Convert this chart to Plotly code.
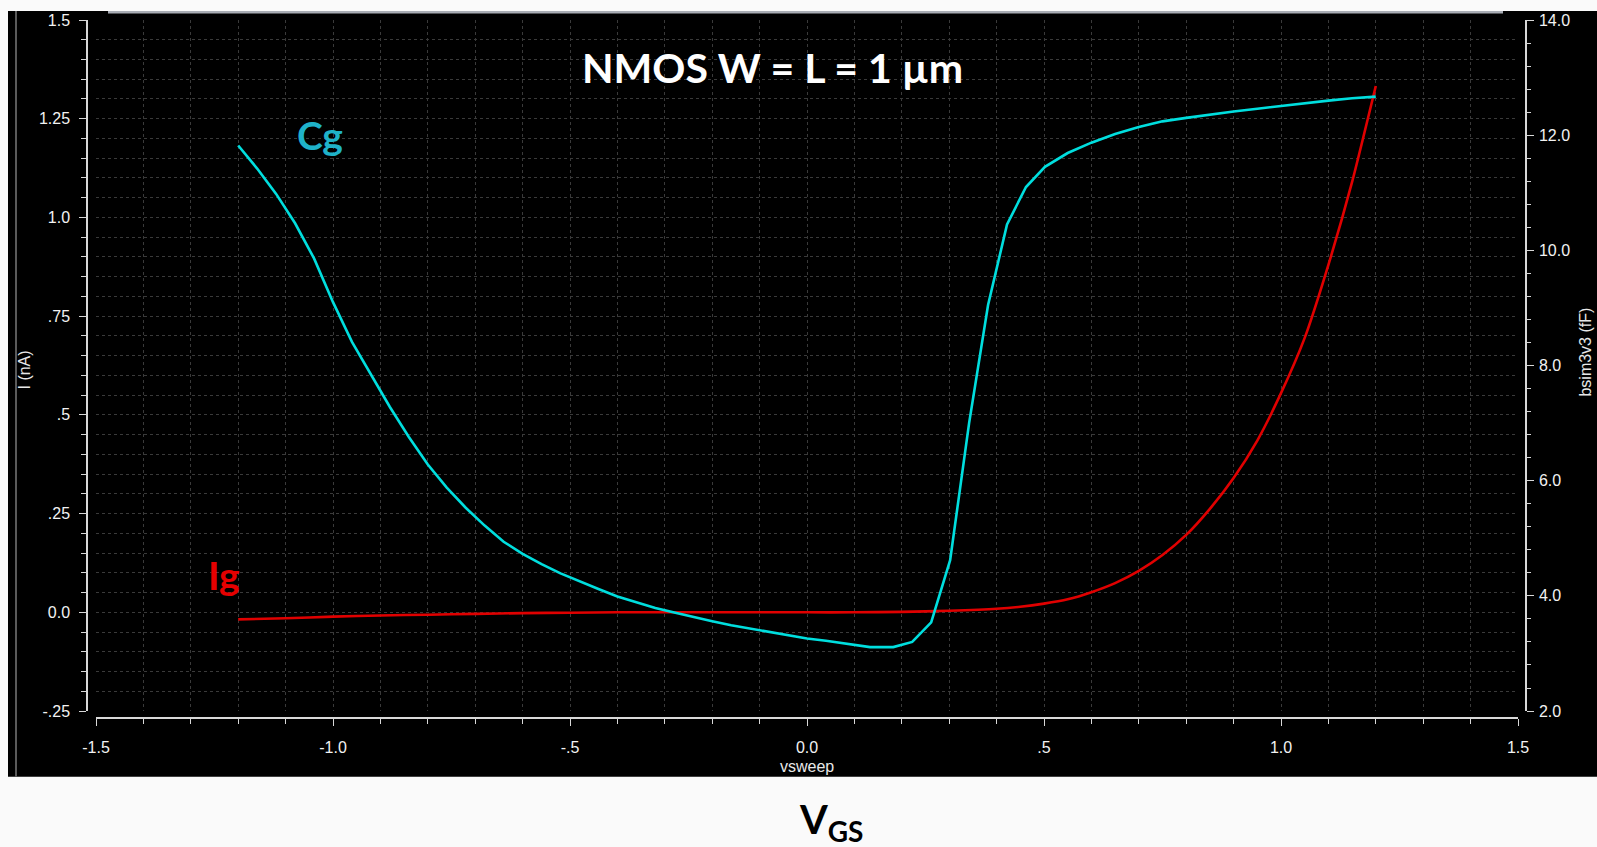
import plotly.graph_objects as go

# Gate current Ig (nA) versus sweep voltage
ig_v = [-1.2, -1.1, -1.0, -0.9, -0.8, -0.7, -0.6, -0.5, -0.4, -0.3, -0.2, -0.1, 0.0,
        0.1, 0.2, 0.3, 0.4, 0.45, 0.5, 0.55, 0.6, 0.65, 0.7, 0.75, 0.8, 0.85, 0.9,
        0.95, 1.0, 1.05, 1.1, 1.15, 1.2]
ig_na = [-0.018, -0.015, -0.011, -0.008, -0.006, -0.004, -0.002, -0.001, 0.0, 0.0, 0.0, 0.0, 0.0,
         0.0, 0.001, 0.004, 0.009, 0.014, 0.022, 0.033, 0.051, 0.074, 0.105, 0.145, 0.196, 0.262, 0.340,
         0.435, 0.555, 0.695, 0.88, 1.09, 1.333]

# Gate capacitance Cg (fF) versus sweep voltage
cg_v = [-1.20, -1.16, -1.12, -1.08, -1.04, -1.00, -0.96, -0.92, -0.88, -0.84, -0.80, -0.76,
        -0.72, -0.68, -0.64, -0.60, -0.56, -0.52, -0.48, -0.44, -0.40, -0.36, -0.32, -0.28,
        -0.24, -0.20, -0.16, -0.12, -0.08, -0.04, 0.00, 0.04, 0.08, 0.12, 0.133, 0.182,
        0.222, 0.262, 0.302, 0.342, 0.382, 0.422, 0.462, 0.502, 0.55, 0.60, 0.65, 0.70,
        0.75, 0.80, 0.85, 0.90, 0.95, 1.00, 1.05, 1.10, 1.15, 1.20]
cg_ff = [11.82, 11.42, 10.98, 10.47, 9.86, 9.10, 8.41, 7.85, 7.28, 6.76, 6.28, 5.88,
         5.53, 5.22, 4.94, 4.73, 4.55, 4.39, 4.25, 4.12, 3.99, 3.89, 3.79, 3.71,
         3.63, 3.56, 3.49, 3.43, 3.37, 3.31, 3.26, 3.22, 3.17, 3.12, 3.11, 3.11,
         3.20, 3.54, 4.62, 7.00, 9.05, 10.45, 11.10, 11.45, 11.69, 11.87, 12.02, 12.14,
         12.24, 12.30, 12.36, 12.41, 12.46, 12.51, 12.56, 12.60, 12.64, 12.67]

x_ticks = [-1.5, -1.0, -0.5, 0.0, 0.5, 1.0, 1.5]
x_labels = ["-1.5", "-1.0", "-.5", "0.0", ".5", "1.0", "1.5"]
i_ticks = [-0.25, 0.0, 0.25, 0.5, 0.75, 1.0, 1.25, 1.5]
i_labels = ["-.25", "0.0", ".25", ".5", ".75", "1.0", "1.25", "1.5"]
c_ticks = [2, 4, 6, 8, 10, 12, 14]
c_labels = ["2.0", "4.0", "6.0", "8.0", "10.0", "12.0", "14.0"]

W, H = 1597, 847
ML, MR, MT, MB = 87, 71, 17, 129
PW, PH = W - ML - MR, H - MT - MB


def px(x):
    return (x - ML) / PW


def py(y):
    return (H - MB - y) / PH


TICK_FONT = dict(family="Liberation Sans, Arial, sans-serif", size=16, color="#f2f2f2")
GRID = "#3a3a3a"
AXLINE = "#d8d8d8"

fig = go.Figure()
fig.add_trace(go.Scatter(x=ig_v, y=ig_na, mode="lines", name="Ig",
                         line=dict(color="#e00000", width=2.6, shape="spline", smoothing=0.6),
                         yaxis="y"))
fig.add_trace(go.Scatter(x=cg_v, y=cg_ff, mode="lines", name="Cg",
                         line=dict(color="#00dede", width=2.6), yaxis="y2"))

fig.update_layout(
    width=W, height=H,
    margin=dict(l=ML, r=MR, t=MT, b=MB, pad=0),
    paper_bgcolor="#fafafa",
    plot_bgcolor="#000000",
    showlegend=False,
    xaxis=dict(
        domain=[px(96), px(1518)], range=[-1.5, 1.5],
        anchor="free", position=0,
        tickmode="array", tickvals=x_ticks, ticktext=x_labels,
        ticks="outside", ticklen=7, tickcolor=AXLINE, tickwidth=1,
        showline=True, linecolor=AXLINE, linewidth=1.5,
        showgrid=True, gridcolor=GRID, griddash="dot", gridwidth=1,
        minor=dict(tickmode="linear", tick0=-1.5, dtick=0.1, ticks="outside", ticklen=5,
                   tickcolor=AXLINE, showgrid=True, gridcolor=GRID, griddash="dot"),
        zeroline=False, tickfont=TICK_FONT, ticklabelstandoff=8,
    ),
    yaxis=dict(
        domain=[py(711), 1], range=[-0.25, 1.5],
        anchor="free", position=0,
        tickmode="array", tickvals=i_ticks, ticktext=i_labels,
        ticks="outside", ticklen=7, tickcolor=AXLINE, tickwidth=1,
        showline=True, linecolor=AXLINE, linewidth=1.5,
        showgrid=True, gridcolor=GRID, griddash="dot", gridwidth=1,
        minor=dict(tickmode="linear", tick0=0, dtick=0.05, ticks="outside", ticklen=5,
                   tickcolor=AXLINE, showgrid=True, gridcolor=GRID, griddash="dot"),
        zeroline=False, tickfont=TICK_FONT, ticklabelstandoff=6,
    ),
    yaxis2=dict(
        domain=[py(711), 1], range=[2, 14],
        overlaying="y", side="right", anchor="free", position=1,
        tickmode="array", tickvals=c_ticks, ticktext=c_labels,
        ticks="outside", ticklen=7, tickcolor=AXLINE, tickwidth=1,
        showline=True, linecolor=AXLINE, linewidth=1.5,
        showgrid=False,
        minor=dict(tickmode="linear", tick0=2, dtick=0.4, ticks="outside", ticklen=4,
                   tickcolor=AXLINE, showgrid=False),
        zeroline=False, tickfont=TICK_FONT, ticklabelstandoff=2,
    ),
)

# Dark waveform-viewer panel and its frame
fig.add_shape(type="rect", xref="paper", yref="paper", layer="below",
              x0=px(8), x1=px(1600), y0=py(777), y1=py(8),
              fillcolor="#000000", line=dict(width=0))
fig.add_shape(type="line", xref="paper", yref="paper", layer="below",
              x0=px(16), x1=px(16), y0=py(777), y1=py(8),
              line=dict(color="#5a5a5a", width=2))
fig.add_shape(type="rect", xref="paper", yref="paper", layer="above",
              x0=px(108), x1=px(1503), y0=py(10.5), y1=py(8),
              fillcolor="#a9adb5", line=dict(width=0))

LABEL_FONT = "Lato, 'Open Sans', sans-serif"
annotations = [
    dict(text="<b>NMOS W = L = 1 µm</b>", x=px(772), y=py(65),
         font=dict(family=LABEL_FONT, size=41, color="#ffffff")),
    dict(text="<b>Cg</b>", x=px(320), y=py(132),
         font=dict(family=LABEL_FONT, size=39, color="#1fb2c9")),
    dict(text="<b>Ig</b>", x=px(224), y=py(574),
         font=dict(family=LABEL_FONT, size=39, color="#e60000")),
    dict(text="I (nA)", x=px(24), y=py(369), textangle=-90,
         font=dict(family="Liberation Sans, Arial, sans-serif", size=16, color="#e8e8e8")),
    dict(text="bsim3v3 (fF)", x=px(1586), y=py(351), textangle=-90,
         font=dict(family="Liberation Sans, Arial, sans-serif", size=16, color="#e8e8e8")),
    dict(text="vsweep", x=px(807), y=py(767),
         font=dict(family="Liberation Sans, Arial, sans-serif", size=16, color="#e8e8e8")),
    dict(text="<b>V<sub>GS</sub></b>", x=px(831), y=py(822),
         font=dict(family=LABEL_FONT, size=40, color="#000000")),
]
for a in annotations:
    fig.add_annotation(xref="paper", yref="paper", showarrow=False,
                       xanchor="center", yanchor="middle", **a)

fig.write_html("out.html")
